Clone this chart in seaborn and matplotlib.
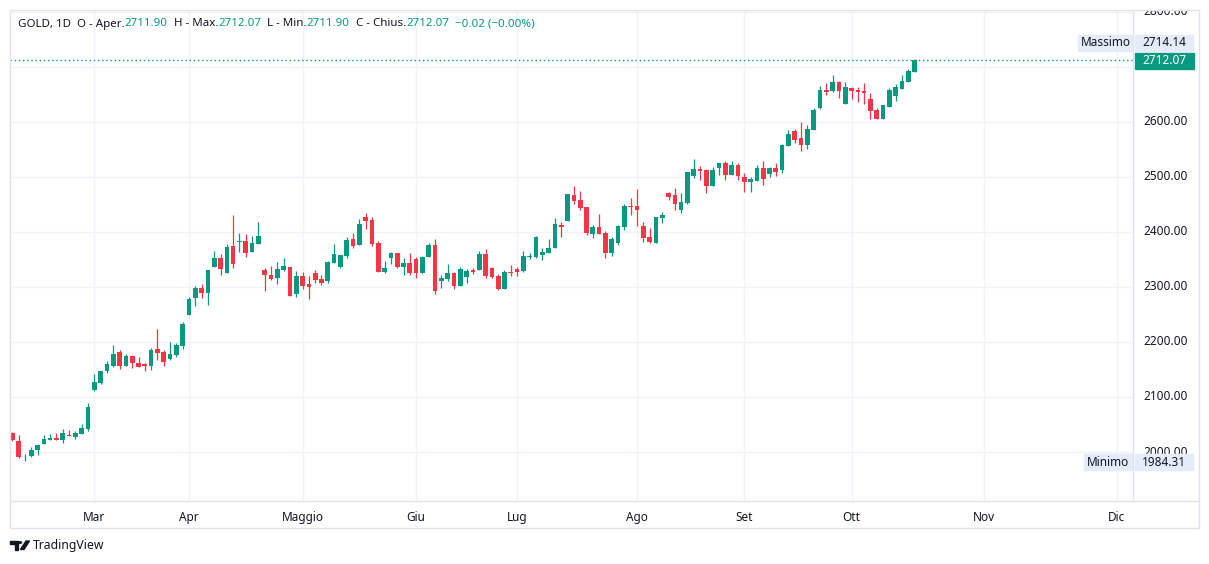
import matplotlib
matplotlib.use("Agg")
import matplotlib.pyplot as plt
import seaborn as sns
import numpy as np
import pandas as pd
from matplotlib.patches import Rectangle, Polygon, Circle
from matplotlib.lines import Line2D

# daily candles, GOLD 1D
opens = [2034, 2020, 1992, 1992, 2004, 2015, 2022, 2026, 2022, 2031, 2027, 2033, 2042, 2113, 2125, 2147,
         2156, 2182, 2157, 2175, 2162, 2160, 2157, 2187, 2182, 2170, 2177, 2192, 2249, 2280, 2299, 2289,
         2337, 2353, 2326, 2375, 2382, 2384, 2364, 2379, 2331, 2322, 2317, 2331, 2336, 2288, 2320, 2306,
         2325, 2315, 2310, 2344, 2337, 2357, 2387, 2376, 2427, 2422, 2380, 2328, 2352, 2362, 2337, 2344,
         2351, 2326, 2355, 2376, 2310, 2315, 2325, 2302, 2319, 2330, 2330, 2360, 2334, 2320, 2297, 2327,
         2333, 2329, 2354.5, 2354.5, 2358, 2362, 2371, 2412, 2420.6, 2467, 2458, 2445.5, 2396, 2409, 2398, 2362,
         2380, 2409, 2447, 2447, 2411, 2391, 2380, 2425.5, 2471, 2467, 2440, 2452, 2502, 2514.5, 2513, 2484,
         2516, 2525.5, 2504, 2522, 2500, 2491, 2493, 2516, 2505.5, 2516, 2512, 2556, 2583.6, 2571, 2558, 2585.5,
         2625.5, 2658, 2656.4, 2672.7, 2632.7, 2662, 2658, 2656.4, 2642, 2622, 2605.5, 2627, 2647, 2660, 2672.7, 2691]
highs = [2036, 2031, 1996, 2009, 2015, 2031, 2033, 2035, 2042, 2040, 2038, 2051, 2089, 2142, 2147, 2165,
         2195, 2185, 2179, 2177, 2173, 2162, 2189, 2224, 2186, 2200, 2198, 2236, 2281, 2301, 2305, 2331,
         2366, 2360, 2378, 2431, 2398, 2396, 2393, 2418, 2335, 2338, 2346, 2353, 2336, 2329, 2327, 2320,
         2331, 2322, 2347, 2379, 2358, 2391, 2398, 2424, 2435, 2427, 2384, 2347, 2364, 2362, 2353, 2361,
         2355, 2356, 2380, 2387, 2321, 2342, 2327, 2336, 2333, 2334, 2366, 2369, 2336, 2324, 2331, 2340,
         2336, 2365, 2362, 2393, 2371, 2387, 2426, 2418, 2469, 2484, 2474, 2445.5, 2413, 2433, 2402, 2391,
         2413, 2451, 2462, 2478, 2418, 2407, 2427, 2436, 2473, 2480, 2470, 2509, 2533, 2520, 2514.5, 2518,
         2525.5, 2529, 2529, 2525.5, 2507, 2500, 2522, 2529, 2518, 2525.5, 2560, 2585.5, 2587, 2600, 2594.5, 2625.5,
         2665.5, 2671, 2685.5, 2674.5, 2672.7, 2663.6, 2663.6, 2671, 2652.7, 2625.5, 2631, 2662, 2669, 2685.5, 2696.4, 2714.14]
lows = [2020, 1990, 1984.31, 1991, 1995, 2015, 2021, 2021, 2017, 2030, 2024, 2033, 2038, 2111, 2124, 2144,
        2155, 2151, 2157, 2153, 2155, 2148, 2150, 2168, 2157, 2168, 2173, 2188, 2249, 2266, 2280, 2267,
        2337, 2321, 2326, 2335, 2364, 2355, 2364, 2379, 2292, 2313, 2306, 2329, 2284, 2282, 2297, 2279,
        2307, 2304, 2308, 2344, 2335, 2353, 2371, 2376, 2405, 2375, 2328, 2326, 2341, 2335, 2322, 2321,
        2317, 2326, 2355, 2288, 2299, 2311, 2297, 2302, 2308, 2324, 2330, 2317, 2316, 2295, 2297, 2320,
        2320, 2327, 2350, 2352.6, 2349, 2362, 2371, 2391.5, 2420.6, 2451, 2440, 2394.6, 2389, 2396, 2353, 2356,
        2376, 2404, 2431, 2411, 2382, 2380, 2380, 2416, 2458, 2440, 2435, 2450, 2498, 2494.5, 2471, 2484,
        2504, 2494.5, 2504, 2494.5, 2473, 2473, 2493, 2485.5, 2500, 2502, 2508, 2556, 2562, 2547, 2551, 2585.5,
        2623.6, 2649, 2654.5, 2643.6, 2632.7, 2642, 2636, 2632.7, 2605.5, 2605.5, 2605.5, 2627, 2638, 2660, 2672.7, 2691]
closes = [2022, 1991.5, 1993.5, 2004, 2013, 2024, 2026, 2022, 2035, 2030, 2035, 2044, 2082, 2127, 2147, 2160,
          2178, 2157, 2175, 2161, 2155, 2157, 2186, 2180, 2164, 2178, 2195, 2233, 2279, 2299, 2289, 2331,
          2353, 2333, 2373, 2342, 2384.5, 2361, 2380, 2393, 2321, 2315, 2333, 2338, 2284, 2320, 2302, 2300,
          2313, 2308, 2346, 2360, 2358, 2385.5, 2375, 2415, 2420, 2379, 2328, 2335, 2362, 2337, 2344, 2326,
          2326, 2355, 2376, 2293, 2317, 2326, 2302, 2333, 2329, 2328, 2360, 2320, 2318, 2297, 2327, 2326,
          2328, 2356, 2356, 2391, 2363.6, 2371, 2415, 2409.7, 2469, 2456, 2443.7, 2398, 2409, 2396, 2362, 2387,
          2411, 2447, 2445.5, 2440, 2389, 2382, 2427, 2431, 2464, 2450, 2455, 2509, 2515, 2511, 2484, 2513,
          2525.5, 2504, 2522, 2502, 2491, 2496, 2516, 2496, 2516, 2509, 2558, 2578, 2567, 2558, 2587, 2622,
          2658, 2654.5, 2672.7, 2656.4, 2663.6, 2656.4, 2654.5, 2652.7, 2620, 2605.5, 2631, 2658, 2663.6, 2674.5, 2692.7, 2712.07]

month_labels = ["Mar", "Apr", "Maggio", "Giu", "Lug", "Ago", "Set", "Ott", "Nov", "Dic"]
month_pos = [13, 28, 46, 64, 80, 99, 116, 133, 154, 175]
price_ticks = [2000, 2100, 2200, 2300, 2400, 2500, 2600, 2700, 2800]

legend_parts = [("GOLD, 1D  O - Aper.", "dark"), ("2711.90", "up"), ("  H - Max.", "dark"), ("2712.07", "up"),
                ("  L - Min.", "dark"), ("2711.90", "up"), ("  C - Chius.", "dark"), ("2712.07", "up"),
                ("  \u22120.02 (\u22120.00%)", "up")]

UP = "#089981"
DOWN = "#f23645"
DARK = "#131722"
GRID = "#f0f3fa"
BORDER = "#e0e3eb"
LABEL_BG = "#e3ecf8"

sns.set_theme(style="white")
plt.rcParams['font.family'] = ['Noto Sans', 'DejaVu Sans']
plt.rcParams['font.size'] = 8.5

W, H = 1209, 564
fig = plt.figure(figsize=(W / 100, H / 100), dpi=100)
fig.patch.set_facecolor("white")


def fx(px):
    return px / W


def fy(py):
    return 1 - py / H


top_px, bot_px, left_px, axis_px, right_px, frame_bot = 10, 501, 10, 1133, 1199, 528
ax = fig.add_axes([fx(left_px), fy(bot_px), fx(axis_px - left_px), (bot_px - top_px) / H])
ax_p = fig.add_axes([fx(axis_px), fy(bot_px), fx(right_px - axis_px), (bot_px - top_px) / H])

ppx = 800 / 440  # price per pixel
ylim = (2800 - (bot_px - 12) * ppx, 2800 + (12 - top_px) * ppx)
bar_px = 6.31
ax.set_xlim((left_px - 12.3) / bar_px, (axis_px - 12.3) / bar_px)
ax.set_ylim(*ylim)
ax_p.set_ylim(*ylim)
ax_p.set_xlim(axis_px, right_px)

df = pd.DataFrame({"o": opens, "h": highs, "l": lows, "c": closes})
df["x"] = np.arange(len(df))
up = df["c"] >= df["o"]
cols = np.where(up, UP, DOWN)

# grid
for p in price_ticks:
    ax.axhline(p, color=GRID, lw=1, zorder=0)
for m in month_pos:
    ax.axvline(m, color=GRID, lw=1, zorder=0)

ax.vlines(df["x"], df["l"], df["h"], colors=cols, linewidth=0.9, zorder=2)
body_low = np.minimum(df["o"], df["c"])
body_h = np.maximum((df["c"] - df["o"]).abs(), 1.6)
ax.bar(df["x"], body_h, bottom=body_low, width=0.74, color=cols, linewidth=0, zorder=3)

last = closes[-1]
ax.axhline(last, color=UP, lw=1, ls=(0, (1, 2)), zorder=4)

ax.set_xticks(month_pos)
ax.set_xticklabels(month_labels, fontsize=8.5, color=DARK)
ax.tick_params(axis="x", length=0, pad=7)
ax.set_yticks([])
for s in ax.spines.values():
    s.set_visible(False)

# price scale (labels under the value boxes stay partly hidden, as in the original)
ax_p.set_xticks([])
ax_p.set_yticks([])
for s in ax_p.spines.values():
    s.set_visible(False)
for p in price_ticks:
    ax_p.text(1166, p, f"{p:.2f}", ha="center", va="center", fontsize=8.5, color=DARK, clip_on=True)

box_h = 16 * ppx
# last price label
ax_p.add_patch(Rectangle((1135, last - box_h / 2 - 0.5 * ppx), 59, box_h, color=UP, zorder=5, clip_on=False))
ax_p.text(1164.5, last - 0.5 * ppx, f"{last:.2f}", ha="center", va="center", fontsize=8.5,
          color="white", fontweight="bold", zorder=6, clip_on=False)

hi = max(highs)
lo = min(lows)
hi_y = last + box_h + 1.5 * ppx
for (y, name, x0) in [(hi_y, "Massimo", 1078), (lo - 1.5 * ppx, "Minimo", 1084)]:
    ax_p.add_patch(Rectangle((x0, y - box_h / 2), axis_px - x0 - 1, box_h, color=LABEL_BG, zorder=5, clip_on=False))
    ax_p.text((x0 + axis_px) / 2, y, name, ha="center", va="center", fontsize=8.5, color=DARK, zorder=6, clip_on=False)
    ax_p.add_patch(Rectangle((1135, y - box_h / 2), 58, box_h, color=LABEL_BG, zorder=5, clip_on=False))
    val = hi if name == "Massimo" else lo
    ax_p.text(1164, y, f"{val:.2f}", ha="center", va="center", fontsize=8.5, color=DARK, zorder=6, clip_on=False)

# frame
fig.add_artist(Rectangle((fx(left_px), fy(frame_bot)), fx(right_px - left_px), (frame_bot - top_px) / H,
                         fill=False, edgecolor=BORDER, lw=1))
fig.add_artist(Line2D([fx(left_px), fx(right_px)], [fy(bot_px), fy(bot_px)], color=BORDER, lw=1))
fig.add_artist(Line2D([fx(axis_px), fx(axis_px)], [fy(top_px), fy(bot_px)], color=BORDER, lw=1))

# legend line at the top
renderer = fig.canvas.get_renderer()
xpos = 18
for txt, c in legend_parts:
    t = fig.text(fx(xpos), fy(24), txt, ha="left", va="center", fontsize=8.3,
                 color=UP if c == "up" else DARK)
    bb = t.get_window_extent(renderer=renderer)
    xpos += bb.width

# TradingView logo
fig.add_artist(Polygon([(fx(10), fy(541)), (fx(17.5), fy(541)), (fx(17.5), fy(549.5)), (fx(14.5), fy(549.5)),
                        (fx(14.5), fy(544)), (fx(10), fy(544))], closed=True, color=DARK))
fig.add_artist(Circle((fx(20), fy(542.5)), 1.6 / W, color=DARK))
fig.add_artist(Polygon([(fx(20.5), fy(549.5)), (fx(24), fy(549.5)), (fx(29.5), fy(541)), (fx(26), fy(541))],
                       closed=True, color=DARK))
fig.text(fx(33), fy(546), "TradingView", ha="left", va="center", fontsize=8.8, color=DARK)

fig.savefig("out.png", dpi=100, facecolor="white")
